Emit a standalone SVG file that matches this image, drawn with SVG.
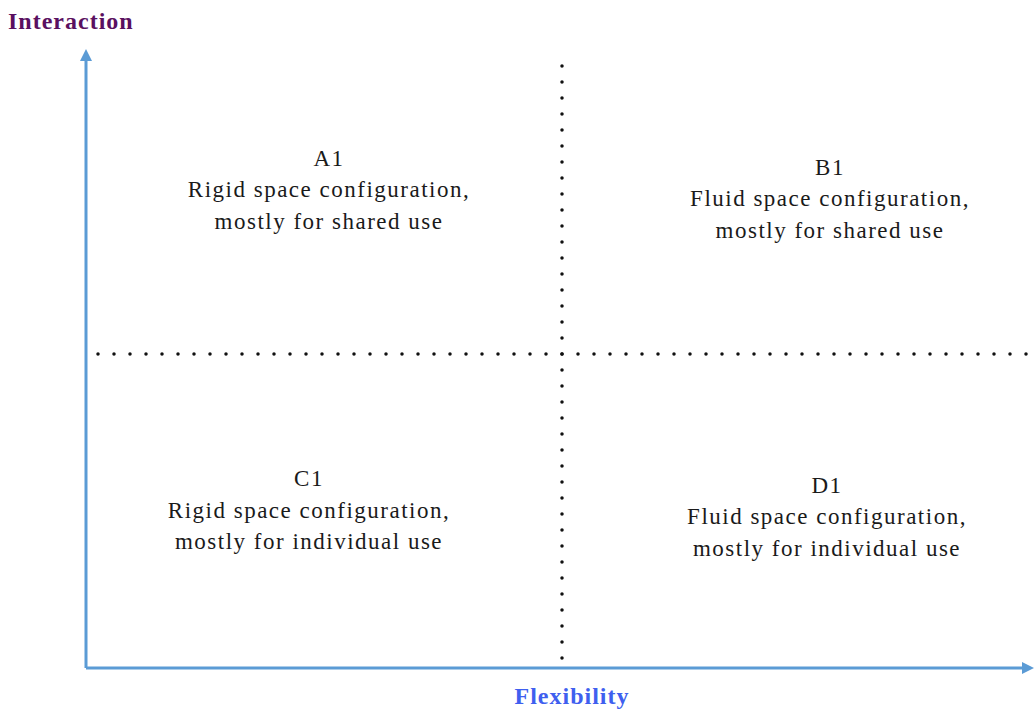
<svg xmlns="http://www.w3.org/2000/svg" width="1034" height="711" viewBox="0 0 1034 711">
<style>
.q{font-family:"Liberation Serif","Times New Roman",serif;font-size:23px;letter-spacing:1.5px;fill:#1a1a1a;text-anchor:middle}
.ax{stroke:#5b9bd5;stroke-width:3;fill:none}
.dot{stroke:#111;stroke-width:3.5;stroke-linecap:round;stroke-dasharray:0 16;fill:none}
.lab{font-family:"Liberation Serif","Times New Roman",serif;font-size:24px;letter-spacing:1px;font-weight:bold}
</style>
<defs>
<marker id="ah" markerWidth="4" markerHeight="4" refX="2" refY="2" orient="auto" markerUnits="strokeWidth">
<path d="M0,0 L4,2 L0,4 Z" fill="#5b9bd5"/>
</marker>
</defs>
<rect width="1034" height="711" fill="#fff"/>
<g id="connectors">
<path class="ax" d="M86,668 L86,55" marker-end="url(#ah)"/>
<path class="ax" d="M86,668 L1028,668" marker-end="url(#ah)"/>
<path class="dot" d="M562,66 L562,662"/>
<path class="dot" d="M98,354 L1034,354"/>
</g>
<g id="axis-y"><text class="lab" x="8" y="29" fill="#5a1060">Interaction</text></g>
<g id="axis-x"><text class="lab" x="572" y="704" fill="#3f5fef" text-anchor="middle">Flexibility</text></g>
<g id="A1"><text class="q" x="329" y="166">A1</text><text class="q" x="329" y="197">Rigid space configuration,</text><text class="q" x="329" y="229">mostly for shared use</text></g>
<g id="B1"><text class="q" x="830" y="175">B1</text><text class="q" x="830" y="206">Fluid space configuration,</text><text class="q" x="830" y="238">mostly for shared use</text></g>
<g id="C1"><text class="q" x="309" y="486">C1</text><text class="q" x="309" y="518">Rigid space configuration,</text><text class="q" x="309" y="549">mostly for individual use</text></g>
<g id="D1"><text class="q" x="827" y="493">D1</text><text class="q" x="827" y="524">Fluid space configuration,</text><text class="q" x="827" y="556">mostly for individual use</text></g>
</svg>
